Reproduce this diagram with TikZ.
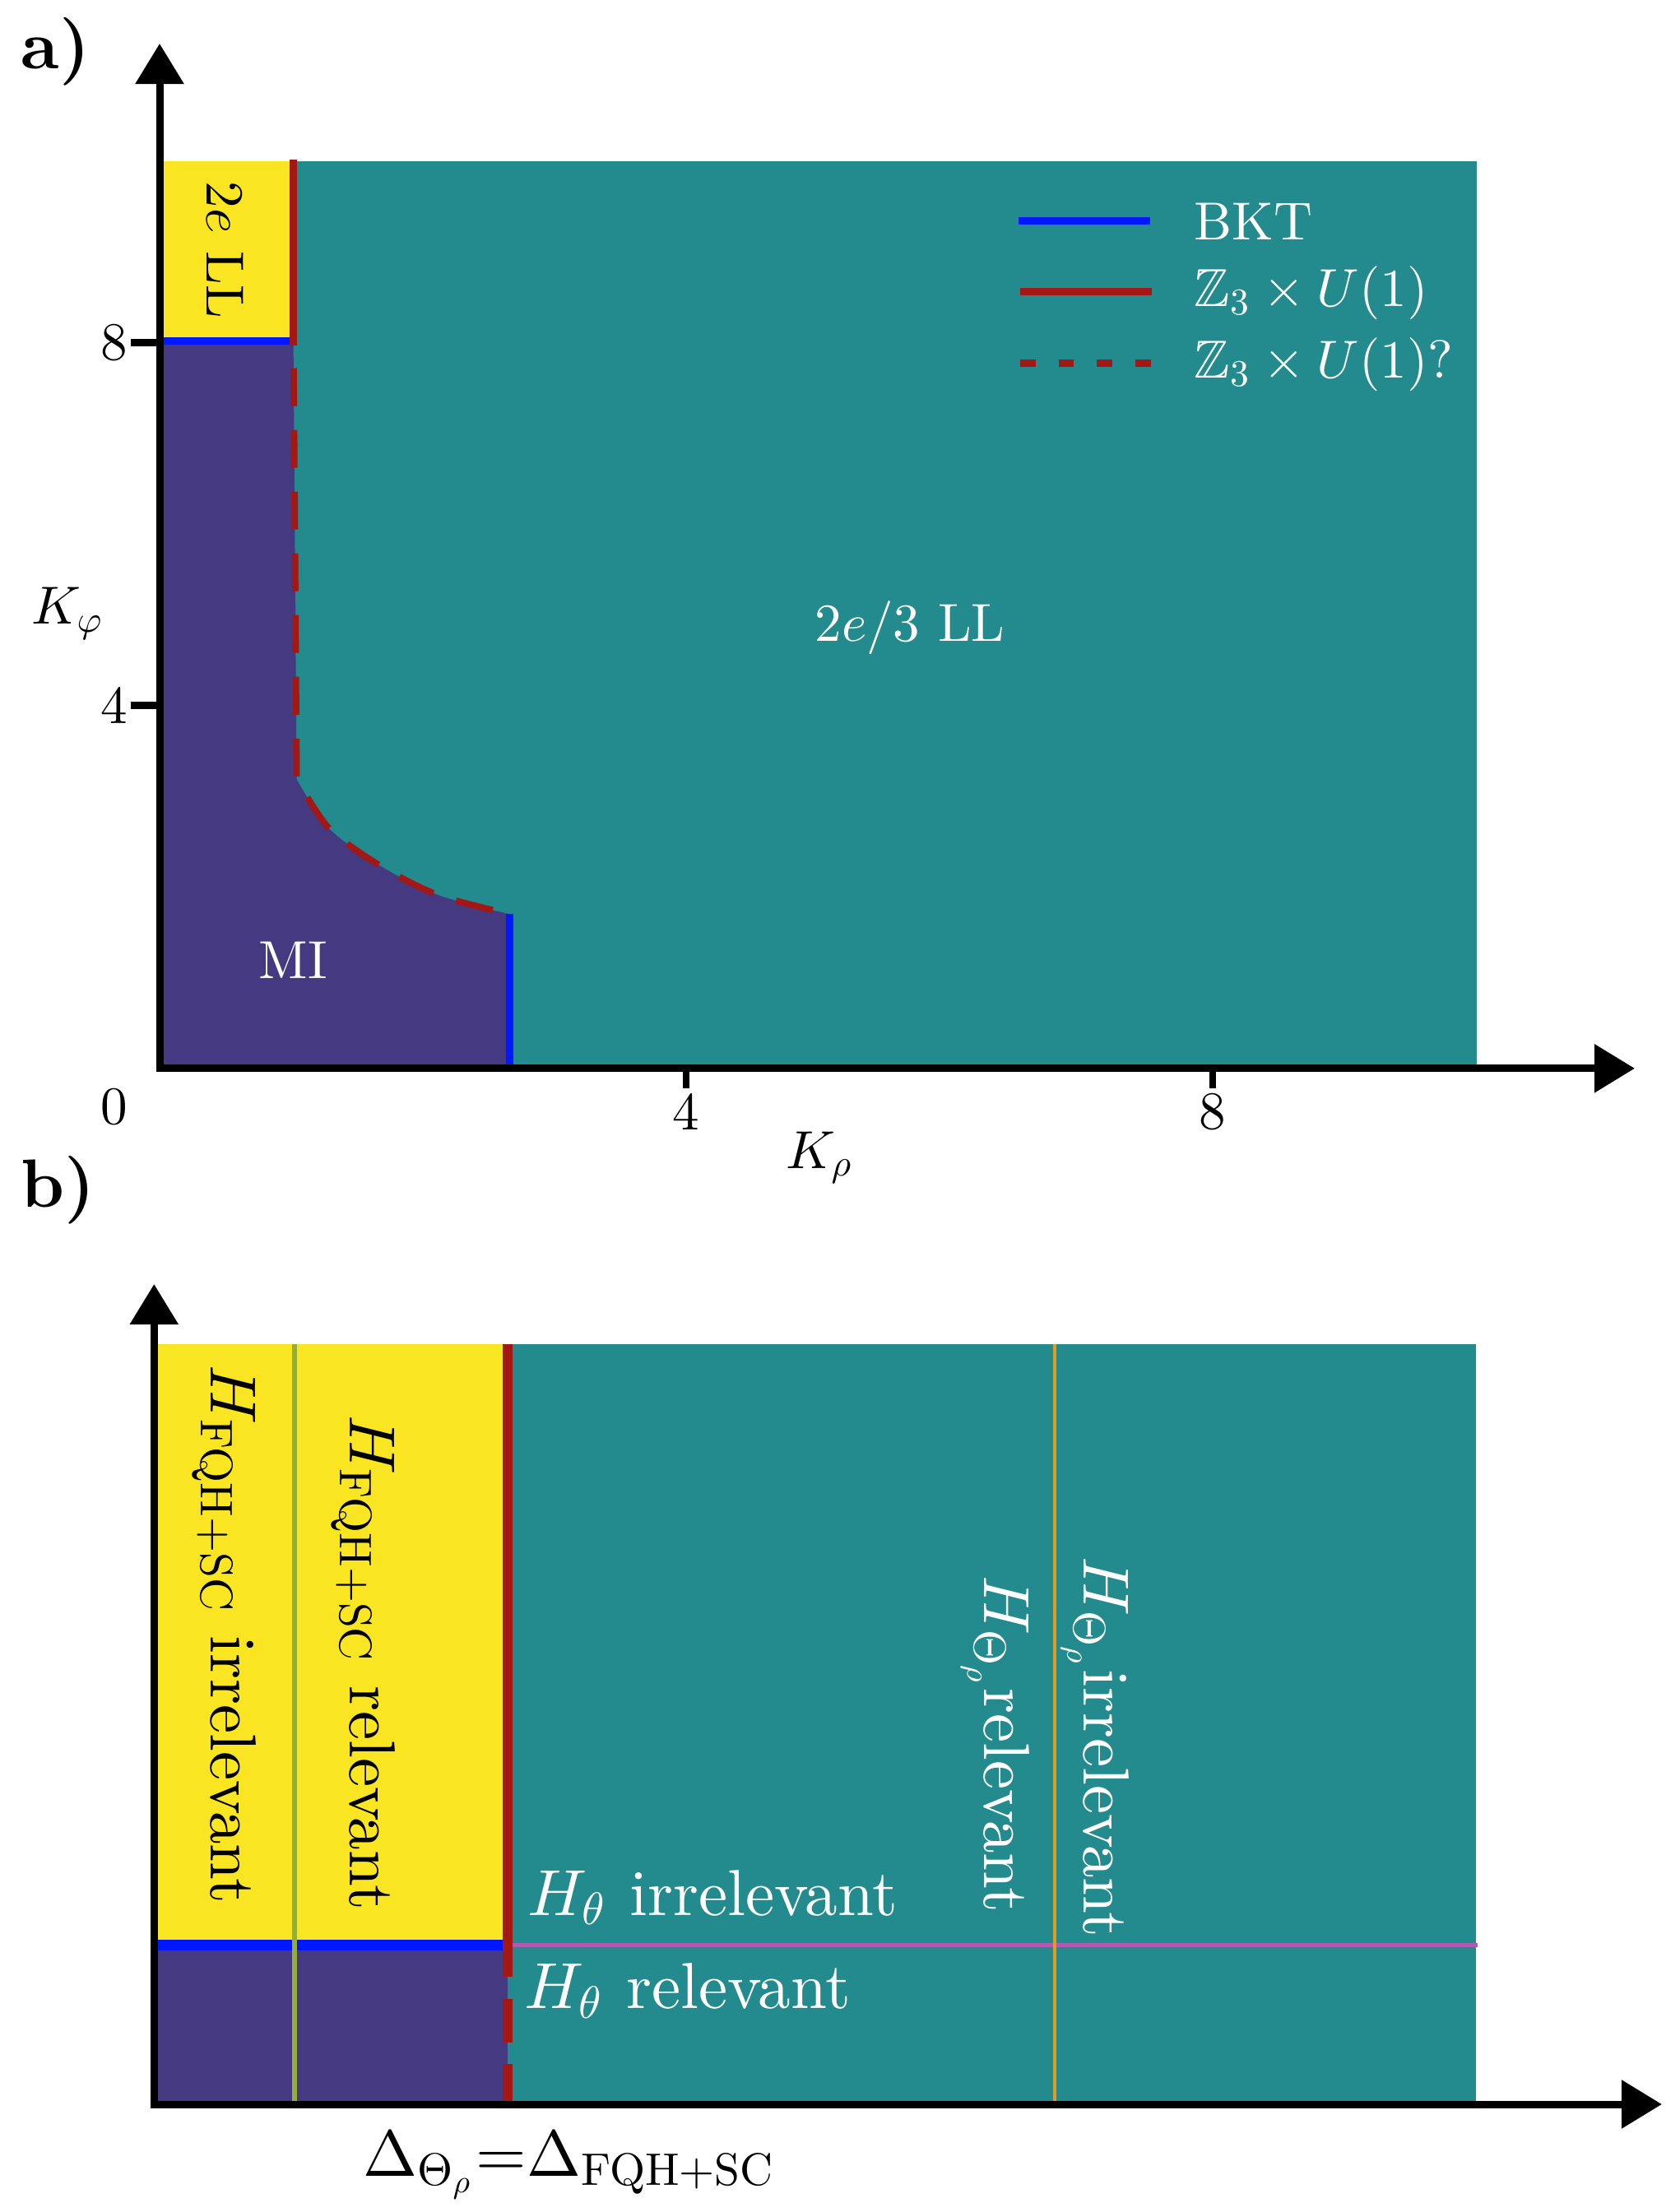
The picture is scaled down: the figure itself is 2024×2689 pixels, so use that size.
\RequirePackage{fix-cm}
\documentclass[tikz,border=0pt]{standalone}
\usepackage{amssymb}
\usetikzlibrary{arrows.meta}
% use the 10pt designs at every size (subscripts scaled, as in the reference)
\DeclareFontShape{OML}{cmm}{m}{it}{<->cmmi10}{}
\DeclareFontShape{OMS}{cmsy}{m}{n}{<->cmsy10}{}
\DeclareFontShape{OT1}{cmr}{m}{n}{<->cmr10}{}
\definecolor{cTeal}{RGB}{35,138,141}
\definecolor{cPurp}{RGB}{69,57,130}
\definecolor{cYel}{RGB}{249,229,33}
\definecolor{cRed}{RGB}{163,24,20}
\definecolor{cBlue}{RGB}{0,24,255}
\definecolor{cOlive}{RGB}{148,175,55}
\definecolor{cOrange}{RGB}{225,155,35}
\definecolor{cPink}{RGB}{175,90,178}
\tikzset{
  axisline/.style={line width=0.09cm, -{Triangle[length=0.49cm,width=0.57cm]}},
  tickmark/.style={line width=0.085cm},
  lblA/.style={font=\fontsize{10}{12}\selectfont, inner sep=0pt, scale=1.85},
  lblB/.style={font=\fontsize{10}{12}\selectfont, inner sep=0pt, scale=2.25},
  panellbl/.style={font=\fontsize{10}{12}\selectfont\bfseries, inner sep=0pt, scale=2.36, anchor=base west},
  rotlbl/.style={rotate=-90, anchor=base east},
  wtxt/.style={text=white},
}
\begin{document}
\begin{tikzpicture}[x=0.01cm,y=-0.01cm]
\useasboundingbox (0,0) rectangle (2024,2689);
% ---------------- panel a ----------------
\begin{scope}[shift={(1.94cm,-12.988cm)}, x=1.6cm, y=1.103cm]
  \fill[cTeal] (0,0) rectangle (10,10);
  \fill[cYel] (0,8) rectangle (1.013,10);
  \fill[cPurp] (0,0) -- (0,8) -- (1.015,8) -- plot[smooth] coordinates {(1.04,3.19) (1.29,2.644) (1.686,2.228) (2.117,1.915) (2.654,1.707)} -- (2.657,0) -- cycle;
  \draw[cBlue, line width=0.09cm] (0,8.017) -- (1.013,8.017);
  \draw[cRed, line width=0.094cm] (1.013,7.97) -- (1.013,10.02);
  \draw[cRed, line width=0.078cm, dash pattern=on 0.46cm off 0.29cm] (1.017,7.72) -- plot[smooth] coordinates {(1.04,3.19) (1.29,2.644) (1.686,2.228) (2.117,1.915) (2.654,1.707)};
  \draw[cBlue, line width=0.084cm] (2.657,0) -- (2.657,1.707);
\end{scope}
% axes a
\coordinate (ayb) at (194,1303.3);
\coordinate (ayt) at (194,53);
\coordinate (axl) at (189.5,1298.8);
\coordinate (axr) at (1987,1298.8);
\draw[axisline] (ayb) -- (ayt);
\draw[axisline] (axl) -- (axr);
% ticks a
\coordinate (ty8a) at (159,416.4); \coordinate (ty8b) at (194,416.4);
\coordinate (ty4a) at (159,857.6); \coordinate (ty4b) at (194,857.6);
\coordinate (tx4a) at (834,1298.8); \coordinate (tx4b) at (834,1323);
\coordinate (tx8a) at (1474,1298.8); \coordinate (tx8b) at (1474,1323);
\draw[tickmark] (ty8a) -- (ty8b);
\draw[tickmark] (ty4a) -- (ty4b);
\draw[tickmark] (tx4a) -- (tx4b);
\draw[tickmark] (tx8a) -- (tx8b);
\node[lblA, anchor=east] (ly8) at (156,416.4) {8};
\node[lblA, anchor=east] (ly4) at (156,857.6) {4};
\node[lblA, anchor=north] (lx4) at (834,1328) {4};
\node[lblA, anchor=north] (lx8) at (1474,1328) {8};
\node[lblA, anchor=north east] (lx0) at (156,1322) {0};
\node[lblA, anchor=base west] (kphi) at (37,759) {$K_\varphi$};
\node[lblA, anchor=base west] (krho) at (954,1420) {$K_\rho$};
\node[panellbl] (pa) at (24,84) {a)};
% region labels a
\node[lblA, wtxt, anchor=base] (mi) at (356,1189) {MI};
\node[lblA, wtxt, anchor=base] (ll23) at (1106,780) {$2e/3$ LL};
\node[lblA, rotlbl] (ll2) at (251,388) {$2e$ LL};
% legend
\draw[cBlue, line width=0.09cm] (1238,268.7) -- (1398,268.7);
\draw[cRed, line width=0.09cm] (1240,355) -- (1400,355);
\draw[cRed, line width=0.09cm, dash pattern=on 0.187cm off 0.28cm] (1240,442) -- (1400,442);
\node[lblA, wtxt, anchor=base west] (lg1) at (1450.5,291.7) {BKT};
\node[lblA, wtxt, anchor=base west] (lg2) at (1450.5,372.7) {$\mathbb{Z}_3\times U(1)$};
\node[lblA, wtxt, anchor=base west] (lg3) at (1450.5,459.3) {$\mathbb{Z}_3\times U(1)?$};
% ---------------- panel b ----------------
\fill[cTeal] (616.8,1633.5) rectangle (1794,2558);
\fill[cYel] (187.3,1633.5) rectangle (616.8,2364);
\fill[cPurp] (187.3,2364) rectangle (616.8,2558);
\draw[cBlue, line width=0.13cm] (187.3,2364.3) -- (616.8,2364.3);
\draw[cPink, line width=0.045cm] (616.8,2364.7) -- (1796,2364.7);
\draw[cOlive, line width=0.057cm] (357.8,1633.5) -- (357.8,2558);
\draw[cOrange, line width=0.048cm] (1282,1633.5) -- (1282,2558);
\draw[cRed, line width=0.125cm] (616.8,1633.5) -- (616.8,2403);
\draw[cRed, line width=0.125cm] (616.8,2430) -- (616.8,2483);
\draw[cRed, line width=0.125cm] (616.8,2509) -- (616.8,2558);
% axes b
\coordinate (byb) at (187.3,2562.5);
\coordinate (byt) at (187.3,1561);
\coordinate (bxl) at (182.8,2558);
\coordinate (bxr) at (2020,2558);
\draw[axisline] (byb) -- (byt);
\draw[axisline] (bxl) -- (bxr);
\node[panellbl] (pb) at (24,1467) {b)};
\node[lblB, rotlbl] (fqhirr) at (256,2316) {$H_{\mathrm{FQH+SC}}$ irrelevant};
\node[lblB, rotlbl] (fqhrel) at (425.5,2323.6) {$H_{\mathrm{FQH+SC}}$ relevant};
\node[lblB, wtxt, rotlbl] (thrrel) at (1196,2327) {$H_{\Theta_\rho}$relevant};
\node[lblB, wtxt, rotlbl] (thrirr) at (1317.6,2357) {$H_{\Theta_\rho}$irrelevant};
\node[lblB, wtxt, anchor=base west] (thirr) at (640,2328) {$H_\theta$ irrelevant};
\node[lblB, wtxt, anchor=base west] (threl) at (636,2441.7) {$H_\theta$ relevant};
\node[lblB, anchor=base west] (xlabb) at (440,2645) {$\Delta_{\Theta_\rho}{=}\Delta_{\mathrm{FQH+SC}}$};
\end{tikzpicture}
\end{document}
